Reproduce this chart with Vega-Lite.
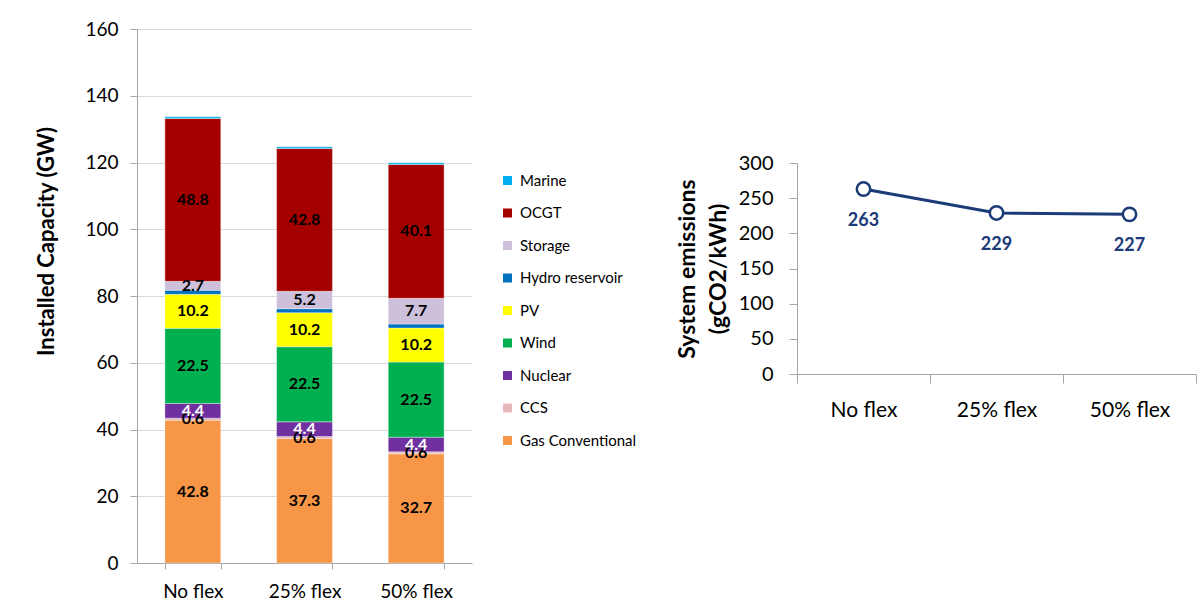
{
  "$schema": "https://vega.github.io/schema/vega-lite/v6.json",
  "background": "white",
  "padding": {"left": 35, "top": 20, "right": 0, "bottom": 0},
  "config": {
    "font": "Lato",
    "view": {"stroke": null},
    "axis": {"domainColor": "#A6A6A6", "tickColor": "#A6A6A6", "labelColor": "#000000", "titleColor": "#000000", "gridColor": "#D9D9D9", "labelFont": "Lato", "titleFont": "Lato"},
    "legend": {"labelFont": "Lato", "labelColor": "#000000"}
  },
  "datasets": {
    "capacity": [
      {"scenario": "No flex", "tech": "Gas Conventional", "gw": 42.8},
      {"scenario": "No flex", "tech": "CCS", "gw": 0.6},
      {"scenario": "No flex", "tech": "Nuclear", "gw": 4.4},
      {"scenario": "No flex", "tech": "Wind", "gw": 22.5},
      {"scenario": "No flex", "tech": "PV", "gw": 10.2},
      {"scenario": "No flex", "tech": "Hydro reservoir", "gw": 1.2},
      {"scenario": "No flex", "tech": "Storage", "gw": 2.7},
      {"scenario": "No flex", "tech": "OCGT", "gw": 48.8},
      {"scenario": "No flex", "tech": "Marine", "gw": 0.5},
      {"scenario": "25% flex", "tech": "Gas Conventional", "gw": 37.3},
      {"scenario": "25% flex", "tech": "CCS", "gw": 0.6},
      {"scenario": "25% flex", "tech": "Nuclear", "gw": 4.4},
      {"scenario": "25% flex", "tech": "Wind", "gw": 22.5},
      {"scenario": "25% flex", "tech": "PV", "gw": 10.2},
      {"scenario": "25% flex", "tech": "Hydro reservoir", "gw": 1.2},
      {"scenario": "25% flex", "tech": "Storage", "gw": 5.2},
      {"scenario": "25% flex", "tech": "OCGT", "gw": 42.8},
      {"scenario": "25% flex", "tech": "Marine", "gw": 0.5},
      {"scenario": "50% flex", "tech": "Gas Conventional", "gw": 32.7},
      {"scenario": "50% flex", "tech": "CCS", "gw": 0.6},
      {"scenario": "50% flex", "tech": "Nuclear", "gw": 4.4},
      {"scenario": "50% flex", "tech": "Wind", "gw": 22.5},
      {"scenario": "50% flex", "tech": "PV", "gw": 10.2},
      {"scenario": "50% flex", "tech": "Hydro reservoir", "gw": 1.2},
      {"scenario": "50% flex", "tech": "Storage", "gw": 7.7},
      {"scenario": "50% flex", "tech": "OCGT", "gw": 40.1},
      {"scenario": "50% flex", "tech": "Marine", "gw": 0.5}
    ],
    "emissions": [
      {"scenario": "No flex", "em": 263},
      {"scenario": "25% flex", "em": 229},
      {"scenario": "50% flex", "em": 227}
    ]
  },
  "spacing": 204,
  "hconcat": [
    {
      "data": {"name": "capacity"},
      "width": 335,
      "height": 534,
      "transform": [
        {"calculate": "indexof(['Gas Conventional','CCS','Nuclear','Wind','PV','Hydro reservoir','Storage','OCGT','Marine'], datum.tech)", "as": "ord"}
      ],
      "encoding": {
        "x": {
          "field": "scenario", "type": "nominal",
          "sort": ["No flex", "25% flex", "50% flex"],
          "scale": {"type": "band", "paddingInner": 0.5, "paddingOuter": 0.25},
          "axis": {"title": null, "labelAngle": 0, "labelFontSize": 19, "tickBand": "extent", "tickSize": 6, "labelPadding": 13}
        }
      },
      "layer": [
        {
          "mark": {"type": "bar", "stroke": "#ffffff", "strokeWidth": 0.5, "strokeOpacity": 0.7},
          "encoding": {
            "y": {
              "field": "gw", "type": "quantitative", "stack": "zero",
              "title": "Installed Capacity (GW)",
              "scale": {"domain": [0, 160], "nice": false},
              "axis": {"titleFontSize": 22, "titleFontWeight": "bold", "titleY": 212, "labelFontSize": 19, "tickCount": 8, "grid": true, "tickSize": 7, "labelPadding": 12, "titlePadding": 26}
            },
            "color": {
              "field": "tech", "type": "nominal",
              "scale": {
                "domain": ["Marine", "OCGT", "Storage", "Hydro reservoir", "PV", "Wind", "Nuclear", "CCS", "Gas Conventional"],
                "range": ["#00B0F0", "#A50000", "#CCC0DA", "#0070C0", "#FFFF00", "#00B050", "#7030A0", "#E6B9B8", "#F79646"]
              },
              "legend": {"title": null, "orient": "none", "legendX": 363, "legendY": 144, "labelFontSize": 15, "symbolType": "square", "symbolSize": 81, "symbolStrokeWidth": 0, "rowPadding": 16.5, "labelOffset": 5}
            },
            "order": {"field": "ord", "type": "quantitative"}
          }
        },
        {
          "transform": [
            {"stack": "gw", "groupby": ["scenario"], "sort": [{"field": "ord", "order": "ascending"}], "as": ["y0", "y1"]},
            {"calculate": "(datum.y0 + datum.y1) / 2", "as": "ymid"},
            {"filter": "datum.tech !== 'Marine' && datum.tech !== 'Hydro reservoir'"}
          ],
          "mark": {"type": "text", "fontWeight": "bold", "fontSize": 16},
          "encoding": {
            "y": {"field": "ymid", "type": "quantitative", "title": "Installed Capacity (GW)"},
            "text": {"field": "gw", "type": "quantitative", "format": ".1f"},
            "color": {"condition": {"test": "datum.tech === 'Nuclear'", "value": "#ffffff"}, "value": "#000000"}
          }
        }
      ]
    },
    {
      "spacing": 0,
      "vconcat": [
        {
          "width": 399,
          "height": 124,
          "data": {"values": [{"k": 1}]},
          "mark": {"type": "point", "opacity": 0},
          "encoding": {}
        },
        {
          "data": {"name": "emissions"},
          "width": 399,
          "height": 211,
          "encoding": {
            "x": {
              "field": "scenario", "type": "nominal",
              "sort": ["No flex", "25% flex", "50% flex"],
              "scale": {"type": "band", "paddingInner": 0, "paddingOuter": 0},
              "axis": {"title": null, "labelAngle": 0, "labelFontSize": 21, "tickBand": "extent", "tickSize": 9, "labelPadding": 16}
            },
            "y": {
              "field": "em", "type": "quantitative",
              "scale": {"domain": [0, 300], "nice": false},
              "axis": {"title": ["System emissions", "(gCO2/kWh)"], "titleFontSize": 23, "titleFontWeight": "bold", "titleLineHeight": 31, "labelFontSize": 20, "tickCount": 6, "grid": false, "tickSize": 8, "labelPadding": 16, "titlePadding": 8}
            }
          },
          "layer": [
            {"mark": {"type": "line", "color": "#1B3A78", "strokeWidth": 3}},
            {"mark": {"type": "point", "filled": true, "fill": "#ffffff", "stroke": "#1B3A78", "strokeWidth": 2.5, "size": 180, "opacity": 1}},
            {
              "mark": {"type": "text", "dy": 32, "fontWeight": "bold", "fontSize": 18, "color": "#1B3A78"},
              "encoding": {"text": {"field": "em", "type": "quantitative"}}
            }
          ]
        }
      ]
    }
  ]
}
